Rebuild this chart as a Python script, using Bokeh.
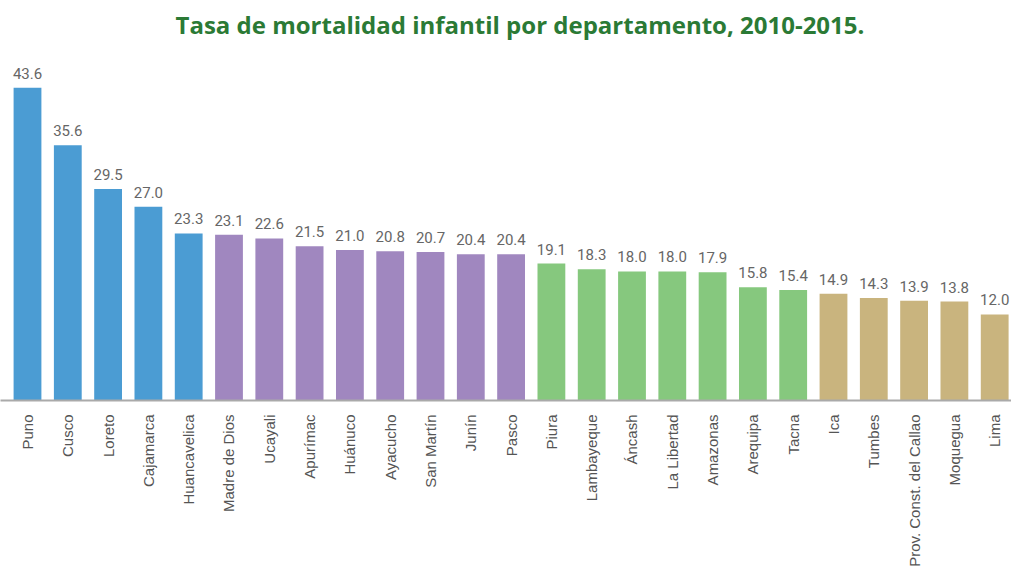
from math import pi
from bokeh.plotting import figure
from bokeh.models import ColumnDataSource, Range1d, FixedTicker
from bokeh.embed import file_html
from bokeh.resources import INLINE

departamentos = ["Puno", "Cusco", "Loreto", "Cajamarca", "Huancavelica",
                 "Madre de Dios", "Ucayali", "Apurímac", "Huánuco", "Ayacucho",
                 "San Martín", "Junín", "Pasco",
                 "Piura", "Lambayeque", "Áncash", "La Libertad", "Amazonas",
                 "Arequipa", "Tacna",
                 "Ica", "Tumbes", "Prov. Const. del Callao", "Moquegua", "Lima"]
tasas = [43.6, 35.6, 29.5, 27.0, 23.3,
         23.1, 22.6, 21.5, 21.0, 20.8, 20.7, 20.4, 20.4,
         19.1, 18.3, 18.0, 18.0, 17.9, 15.8, 15.4,
         14.9, 14.3, 13.9, 13.8, 12.0]
grupos = [0] * 5 + [1] * 8 + [2] * 7 + [3] * 5
colores_grupo = ["#4b9cd3", "#a087bf", "#86c87e", "#c9b47e"]

idx = list(range(len(departamentos)))
src = ColumnDataSource(dict(
    x=idx,
    top=tasas,
    color=[colores_grupo[g] for g in grupos],
    lab=[f"{v:.1f}" for v in tasas],
))

p = figure(width=1011, height=569, output_backend="svg", toolbar_location=None,
           x_range=Range1d(-0.670, 24.417), y_range=Range1d(0, 49.5),
           min_border_left=0, min_border_right=0, min_border_top=0, min_border_bottom=0)

p.title.text = "Tasa de mortalidad infantil por departamento, 2010-2015."
p.title.text_font = "Open Sans"
p.title.text_font_style = "bold"
p.title.text_font_size = "24px"
p.title.text_color = "#2b7a35"
p.title.align = "left"
p.title.offset = 175

p.vbar(x="x", top="top", width=0.69, bottom=0, color="color", line_color=None, source=src)
p.text(x="x", y="top", text="lab", source=src, text_align="center", text_baseline="bottom",
       y_offset=-9, text_font_size="15px", text_color="#666666", text_font={"value": "Roboto"})

p.xaxis.ticker = FixedTicker(ticks=idx)
p.xaxis.major_label_overrides = {i: n for i, n in enumerate(departamentos)}
p.xaxis.major_label_orientation = pi / 2
p.xaxis.major_label_text_font = "Liberation Sans"
p.xaxis.major_label_text_font_size = "15px"
p.xaxis.major_label_text_color = "#555555"
p.xaxis.major_tick_line_color = None
p.xaxis.minor_tick_line_color = None
p.xaxis.axis_line_color = "#aaaaaa"
p.xaxis.axis_line_width = 2
p.xaxis.major_label_standoff = 8
p.yaxis.visible = False
p.xgrid.grid_line_color = None
p.ygrid.grid_line_color = None
p.outline_line_color = None

open("out.html", "w").write(file_html(p, INLINE))
